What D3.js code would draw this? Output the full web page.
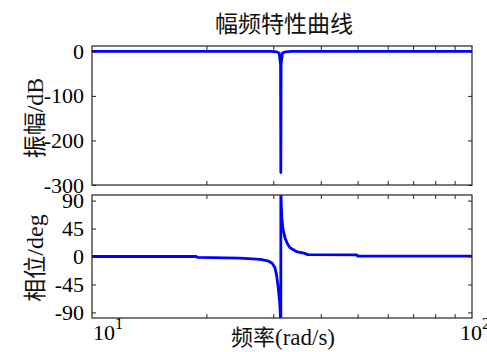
<!DOCTYPE html>
<html><head><meta charset="utf-8">
<script src="https://cdn.jsdelivr.net/npm/d3@7"></script>
<style>body{margin:0;background:#fff}svg{display:block}</style>
</head><body><svg id="c" width="487" height="352"></svg>
<script>
// Magnitude response of the notch filter (rad/s, dB)
const magFreq = [10, 20, 29.5, 30.6, 31.1, 31.35, 31.4, 31.45, 31.7, 32.3, 33.5, 40, 100];
const magDb   = [0, 0, -0.2, -1, -4, -30, -272, -30, -4, -1, -0.2, 0, 0];

// Phase response (rad/s, degrees)
const phaseFreq = [10, 18.8, 19, 24.5, 27.7, 29.0, 29.8, 30.3, 30.6, 30.9, 31.2, 31.4, 31.4, 31.5, 31.6, 31.8, 32.2, 32.7, 33.2, 34.5, 36.3, 37, 49.8, 50, 100];
const phaseDeg  = [0, 0, -1.5, -2.5, -4.5, -7, -11, -18, -30, -50, -75, -110, 110, 80, 60, 45, 30, 20, 14, 8, 5, 3, 2.5, 0.5, 0.5];

const magTicks = [0, -100, -200, -300];
const phaseTicks = [90, 45, 0, -45, -90];
const minorFreqTicks = [20, 30, 40, 50, 60, 70, 80, 90];

const svg = d3.select("#c");
const L = 92, R = 472;
const x = d3.scaleLog().domain([10, 100]).range([L, R]);
const yMag = d3.scaleLinear().domain([-300, 12]).range([185, 46]);
const yPh = d3.scaleLinear().domain([-99, 99]).range([318, 195]);

const serif = "'Liberation Serif','Times New Roman',serif";
const cjk = "'Noto Sans CJK SC','Noto Sans',sans-serif";

function panel(y, ticks, xs, ys, id) {
  const [bot, top] = y.range();
  svg.append("clipPath").attr("id", id).append("rect")
    .attr("x", L).attr("y", top).attr("width", R - L).attr("height", bot - top);
  const pts = xs.map((f, i) => [x(f), y(ys[i])]);
  svg.append("path")
    .attr("clip-path", `url(#${id})`)
    .attr("d", d3.line()(pts))
    .attr("fill", "none").attr("stroke", "#0000ff")
    .attr("stroke-width", 2.8).attr("stroke-linejoin", "round");

  const g = svg.append("g");
  // inward minor ticks along the top and bottom edges
  g.append("g").attr("transform", `translate(0,${bot})`)
    .call(d3.axisBottom(x).tickValues(minorFreqTicks).tickSize(-4).tickFormat(""));
  g.append("g").attr("transform", `translate(0,${top})`)
    .call(d3.axisTop(x).tickValues(minorFreqTicks).tickSize(-4).tickFormat(""));
  // left axis with labels, right axis with inward ticks only
  const ay = d3.axisLeft(y).tickValues(ticks).tickSize(-4).tickPadding(8).tickFormat(d => String(d));
  const gl = g.append("g").attr("transform", `translate(${L},0)`).call(ay);
  gl.selectAll("text").style("font-family", serif).style("font-size", "22px").attr("fill", "#000");
  g.append("g").attr("transform", `translate(${R},0)`)
    .call(d3.axisRight(y).tickValues(ticks).tickSize(-4).tickFormat(""));
  g.selectAll(".domain").remove();
  g.selectAll(".tick line").attr("stroke", "#222");
  svg.append("rect").attr("x", L).attr("y", top).attr("width", R - L).attr("height", bot - top)
    .attr("fill", "none").attr("stroke", "#222").attr("stroke-width", 1.2);
}

panel(yMag, magTicks, magFreq, magDb, "clipMag");
panel(yPh, phaseTicks, phaseFreq, phaseDeg, "clipPh");

// Title
svg.append("text").attr("x", 284).attr("y", 32).attr("text-anchor", "middle")
  .style("font-family", cjk).style("font-size", "23px").attr("fill", "#111").text("幅频特性曲线");

// Y axis labels
function ylab(cx, cy, zh, en) {
  const t = svg.append("text").attr("transform", `translate(${cx},${cy}) rotate(-90)`)
    .attr("text-anchor", "middle").attr("fill", "#111").style("font-size", "23px");
  t.append("tspan").style("font-family", cjk).text(zh);
  t.append("tspan").style("font-family", serif).style("font-size", "24px").text(en);
}
ylab(43, 118, "振幅", "/dB");
ylab(43, 258, "相位", "/deg");

// X axis label
const xl = svg.append("text").attr("x", 283).attr("y", 345).attr("text-anchor", "middle")
  .attr("fill", "#111").style("font-size", "22px");
xl.append("tspan").style("font-family", cjk).text("频率");
xl.append("tspan").style("font-family", serif).style("font-size", "23px").text("(rad/s)");

// Decade labels 10^1 and 10^2
function decade(xpos, exp) {
  const t = svg.append("text").attr("x", xpos).attr("y", 340).style("font-family", serif)
    .style("font-size", "22px").attr("fill", "#000");
  t.append("tspan").text("10");
  t.append("tspan").style("font-size", "16px").attr("dy", -11).text(exp);
}
decade(x(10) + 1, "1");
decade(x(100) - 12, "2");
</script></body></html>
